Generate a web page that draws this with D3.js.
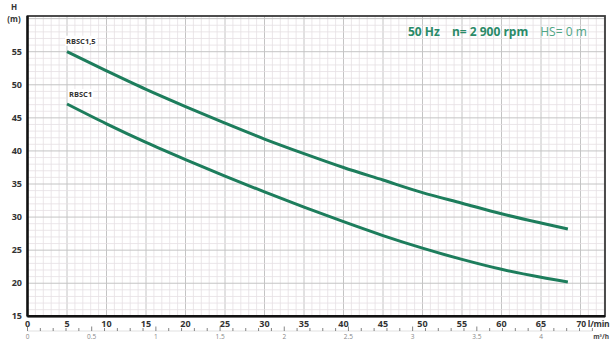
<!DOCTYPE html>
<html><head><meta charset="utf-8">
<script src="https://cdn.jsdelivr.net/npm/d3@7"></script>
<style>body{margin:0;background:#fff}svg{display:block}</style>
</head><body>
<svg id="c" width="610" height="342"></svg>
<script>
const flow = [5,10,15,20,25,30,35,40,45,50,55,60,65,68.4];
const rbsc15 = [55.0,52.1,49.3,46.7,44.2,41.8,39.6,37.5,35.6,33.7,32.1,30.5,29.1,28.2];
const rbsc1  = [47.1,44.1,41.3,38.7,36.2,33.8,31.5,29.3,27.2,25.3,23.6,22.1,20.9,20.2];
const seriesNames = ["RBSC1,5","RBSC1"];
const xTicks = [0,5,10,15,20,25,30,35,40,45,50,55,60,65];
const yTicks = [15,20,25,30,35,40,45,50,55];
const m3Labels = [0,0.5,1,1.5,2,2.5,3,3.5,4];
const title = ["50 Hz","n= 2 900 rpm","HS= 0 m"];

const svg = d3.select("#c");
const L=27.5, R=605, T=16, B=316.3;
const x = d3.scaleLinear().domain([0,73.1]).range([L,R]);
const y = d3.scaleLinear().domain([15,60.4]).range([B,T]);
const x2 = d3.scaleLinear().domain([0,4]).range([x(0),x(65)]);
const FONT = "Open Sans, sans-serif";

const g = svg.append("g");
d3.range(1,74).forEach(v=>{
  g.append("line").attr("x1",x(v)).attr("x2",x(v)).attr("y1",T).attr("y2",B)
   .attr("stroke", v%5===0?"#c4c4c4":"#e6dfe3").attr("stroke-width",v%5===0?1:0.8);
});
d3.range(16,61).forEach(v=>{
  g.append("line").attr("y1",y(v)).attr("y2",y(v)).attr("x1",L).attr("x2",R)
   .attr("stroke", v%5===0?"#c4c4c4":"#e6dfe3").attr("stroke-width",v%5===0?1:0.8);
});
svg.append("rect").attr("x",L).attr("y",T).attr("width",R-L).attr("height",B-T)
  .attr("fill","none").attr("stroke","#3a3a3a").attr("stroke-width",1.8);
svg.append("line").attr("x1",L).attr("x2",L).attr("y1",T).attr("y2",B).attr("stroke","#111").attr("stroke-width",2.4);
svg.append("line").attr("x1",L).attr("x2",R).attr("y1",B).attr("y2",B).attr("stroke","#111").attr("stroke-width",2.4);

function lbl(sel){ return sel.attr("font-family",FONT).attr("font-weight","bold").attr("font-size","9px").attr("fill","#333"); }
yTicks.forEach(v=>{
  lbl(svg.append("text").attr("x",22).attr("y",y(v)+3).attr("text-anchor","end").text(v));
});
xTicks.forEach(v=>{
  lbl(svg.append("text").attr("x",x(v)).attr("y",327).attr("text-anchor","middle").text(v));
});
lbl(svg.append("text").attr("x",x(70)-4).attr("y",327).attr("text-anchor","start").text("70 l/min"))
  .attr("font-size","8.5px").attr("letter-spacing","-0.2px");
lbl(svg.append("text").attr("x",14).attr("y",10).attr("text-anchor","middle").text("H")).attr("font-size","8px");
lbl(svg.append("text").attr("x",14).attr("y",22).attr("text-anchor","middle").text("(m)")).attr("font-size","8px");

const ax2 = svg.append("g");
ax2.append("line").attr("x1",x2(0)).attr("x2",x2(4.4)).attr("y1",331).attr("y2",331).attr("stroke","#ccc").attr("stroke-width",0.6);
d3.range(0,45).forEach(i=>{
  const v=i/10;
  ax2.append("line").attr("x1",x2(v)).attr("x2",x2(v)).attr("y1",331).attr("y2",i%5===0?326.5:328)
    .attr("stroke","#666").attr("stroke-width",0.8);
});
m3Labels.forEach(v=>{
  ax2.append("text").attr("x",x2(v)).attr("y",339).attr("text-anchor","middle")
    .text(v).attr("font-family",FONT).attr("font-size","6.5px").attr("fill","#888");
});
ax2.append("text").attr("x",609).attr("y",339).attr("text-anchor","end")
  .attr("font-family",FONT).attr("font-weight","bold").attr("font-size","6.5px").attr("fill","#444")
  .text("m³/h");

const line = d3.line().x(d=>x(d[0])).y(d=>y(d[1])).curve(d3.curveMonotoneX);
[rbsc15, rbsc1].forEach((s,i)=>{
  svg.append("path").datum(flow.map((q,j)=>[q,s[j]])).attr("d",line)
    .attr("fill","none").attr("stroke","#1d7d5c").attr("stroke-width",3);
  const tx = svg.append("text").attr("x", x(flow[0])+(i===0?-1:2)).attr("y", y(s[0])-(i===0?8:7))
    .attr("font-family",FONT).attr("font-weight","bold").attr("font-size","7.5px").attr("fill","#333")
    .text(seriesNames[i]);
  const bb = tx.node().getBBox();
  svg.insert("rect", "text").attr("x",bb.x-1).attr("y",bb.y).attr("width",bb.width+2).attr("height",bb.height).attr("fill","#fff");
});

const tt = svg.append("text").attr("x",408).attr("y",36).attr("font-family",FONT).attr("font-size","12px");
tt.append("tspan").text(title[0]).attr("font-weight","bold").attr("fill","#2a8a68");
tt.append("tspan").attr("dx",12).text(title[1]).attr("font-weight","bold").attr("fill","#2a8a68");
tt.append("tspan").attr("dx",12).text(title[2]).attr("fill","#4fa585");
</script>
</body></html>
